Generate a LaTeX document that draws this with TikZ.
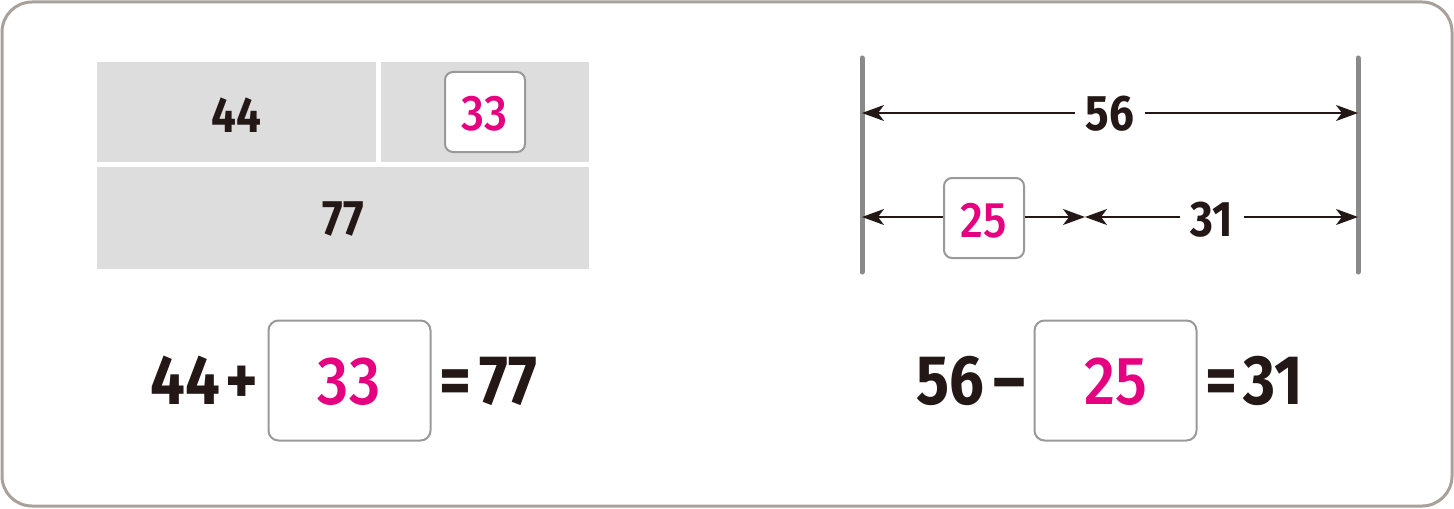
\documentclass[tikz,border=0pt]{standalone}
\usepackage{fontspec}
\setmainfont{Fira Sans}[FakeStretch=0.88]
\newfontfamily\answerfont{Fira Sans Medium}[FakeStretch=0.9]
\usetikzlibrary{arrows.meta}
\definecolor{answer}{HTML}{E4007F}
\definecolor{ink}{HTML}{231815}
\definecolor{frame}{HTML}{A8A19B}
\definecolor{barfill}{HTML}{DDDDDD}
\definecolor{boxline}{HTML}{999999}
\definecolor{tickline}{HTML}{8A8A8A}

\begin{document}
\begin{tikzpicture}[x=0.5pt, y=-0.5pt,
    cell/.style={fill=barfill, draw=none, inner sep=0pt},
    celltext/.style={anchor=base, inner sep=0pt, text=ink, font=\fontsize{25}{25}\selectfont\bfseries},
    smallbox/.style={draw=boxline, line width=1pt, fill=white, rounded corners=4pt, minimum width=40pt, minimum height=40pt, inner sep=0pt},
    bigbox/.style={draw=boxline, line width=1pt, fill=white, rounded corners=5pt, minimum width=81pt, minimum height=60pt, inner sep=0pt},
    smallanswer/.style={anchor=base, inner sep=0pt, text=answer, font=\fontsize{25}{25}\answerfont},
    biganswer/.style={anchor=base, inner sep=0pt, text=answer, font=\fontsize{34}{34}\answerfont},
    eqtext/.style={anchor=base, inner sep=0pt, text=ink, font=\fontsize{35}{35}\selectfont\bfseries},
    dimlabel/.style={inner xsep=5pt, inner ysep=2pt, text=ink, font=\fontsize{25}{25}\selectfont\bfseries},
    dimarrow/.style={-{Stealth[length=11pt, width=8pt, inset=3pt]}, line width=0.7pt, draw=ink},
    tick/.style={draw=tickline, line width=2.5pt, line cap=round}]

    % Frame and bounding box
    \useasboundingbox (0,0) rectangle (1454,508);
    \draw[frame, line width=1.5pt, rounded corners=15pt] (2,2) rectangle (1452,506);

    % Bar model (left)
    \node[cell, minimum width=139.5pt, minimum height=50pt] (c44) at (236.5,112) {};
    \node[cell, minimum width=104pt, minimum height=50pt] (c33) at (485,112) {};
    \node[cell, minimum width=246pt, minimum height=51pt] (c77) at (343,218) {};
    \node[celltext] (t44) at (236.5,133) {44};
    \node[celltext] (t77) at (343,235) {77};
    \node[smallbox] (b33) at (485,112) {};
    \node[smallanswer] (a33) at (484,130) {33};

    % Number line model (right)
    \coordinate (tl) at (862,58);
    \coordinate (bl) at (862,272);
    \coordinate (tr) at (1358,58);
    \coordinate (br) at (1358,272);
    \draw[tick] (tl) -- (bl);
    \draw[tick] (tr) -- (br);

    \coordinate (top l) at (862,113);
    \coordinate (top r) at (1358,113);
    \coordinate (low l) at (862,217);
    \coordinate (low m) at (1085,217);
    \coordinate (low r) at (1358,217);

    \node[dimlabel] (d56) at (1110,114) {56};
    \draw[dimarrow] (d56.west |- top l) -- (top l);
    \draw[dimarrow] (d56.east |- top r) -- (top r);

    \node[smallbox] (b25) at (984,218) {};
    \node[smallanswer] (a25) at (984,237) {25};
    \draw[dimarrow] (b25.west |- low l) -- (low l);
    \draw[dimarrow] (b25.east |- low m) -- (low m);

    \node[dimlabel] (d31) at (1212,220) {31};
    \draw[dimarrow] (d31.west |- low m) -- (low m);
    \draw[dimarrow] (d31.east |- low r) -- (low r);

    % Equation (left)
    \node[eqtext] (e44) at (185,404) {44};
    \node[eqtext] (eplus) at (242,404) {+};
    \node[bigbox] (e33) at (349.5,380.5) {};
    \node[biganswer] (a33big) at (349,404) {33};
    \node[eqtext] (eeq1) at (455,404) {=};
    \node[eqtext] (e77) at (508,404) {77};

    % Equation (right)
    \node[eqtext] (e56) at (950,404) {56};
    \node[eqtext] (eminus) at (1009,404) {\textendash};
    \node[bigbox] (e25) at (1115.5,380.5) {};
    \node[biganswer] (a25big) at (1116,404) {25};
    \node[eqtext] (eeq2) at (1221,404) {=};
    \node[eqtext] (e31) at (1273,404) {31};
\end{tikzpicture}
\end{document}
